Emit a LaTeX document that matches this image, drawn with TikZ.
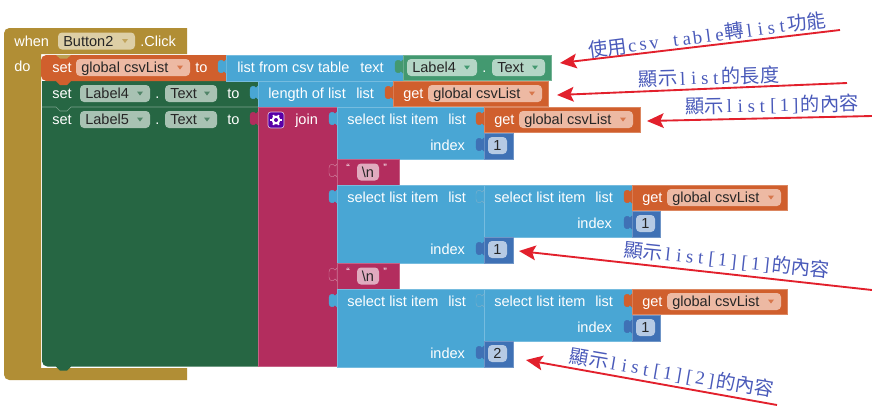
\documentclass[tikz,border=0pt]{standalone}
\usepackage{fontspec}
\usetikzlibrary{arrows.meta}
\setmainfont{Liberation Sans}
\newfontfamily\cjk{Noto Sans CJK TC}
\newfontfamily\anl{Liberation Serif}
\definecolor{cgold}{HTML}{B18E35}
\definecolor{cgoldc}{HTML}{DDCFA6}
\definecolor{corange}{HTML}{D05F2D}
\definecolor{corangec}{HTML}{EDB9A3}
\definecolor{cgreen}{HTML}{266643}
\definecolor{cgreenc}{HTML}{A8C2B3}
\definecolor{cgetter}{HTML}{439970}
\definecolor{cgetterc}{HTML}{B4D6C6}
\definecolor{cblue}{HTML}{49A6D4}
\definecolor{cmag}{HTML}{B32D5E}
\definecolor{cmagc}{HTML}{E0ABBF}
\definecolor{cmath}{HTML}{3F71B5}
\definecolor{cmathc}{HTML}{B6CAE4}
\definecolor{cred}{HTML}{E2202C}
\definecolor{cnote}{HTML}{4A5ABA}
\newdimen\pxu \pxu=.75pt
\newcount\nn
\tikzset{
  x=.75pt,y=-.75pt,
  wtext/.style={inner sep=0pt,anchor=base west,text=white,font=\fontsize{10.9}{13}\selectfont},
  dtext/.style={inner sep=0pt,anchor=base west,text=black!85,font=\fontsize{10.9}{13}\selectfont},
  blockbox/.style={draw,line width=.35pt,inner sep=0pt,outer sep=0pt,anchor=north west},
  chipshape/.style={rounded corners=3pt},
  note/.style={inner sep=0pt,text=cnote,font=\cjk\fontsize{14.5}{17}\selectfont},
  callout/.style={draw=cred,line width=1.4pt,-{Stealth[length=12.5pt,width=11pt,inset=2.5pt]}},
}
% rectangular block as a named node
\newcommand\blk[6]{%
  \pgfmathsetlengthmacro\bw{((#3)-(#1))*.75pt}%
  \pgfmathsetlengthmacro\bh{((#4)-(#2))*.75pt}%
  \node[blockbox,fill=#5,draw=#5!75!white,minimum width=\bw,minimum height=\bh] (#6) at (#1,#2) {};}
% puzzle tab on the left edge of a block
\newcommand\tabb[4]{%
  \path[fill=#3,draw=#4,line width=.35pt] (#1,#2+5)
    -- (#1-2,#2+7) .. controls (#1-4,#2+4) and (#1-8,#2+5) .. (#1-8,#2+9) -- (#1-8,#2+14)
    .. controls (#1-8,#2+18) and (#1-4,#2+19) .. (#1-2,#2+16) -- (#1,#2+18) -- cycle;}
\newcommand\wt[3]{\global\advance\nn 1 \node[wtext] (t\the\nn) at (#1,#2+5) {#3};}
\newcommand\chip[6]{%
  \fill[fill=#4,chipshape] (#1,#3-8.5) rectangle (#2,#3+8.5);
  \global\advance\nn 1 \node[dtext] (t\the\nn) at (#1+5,#3+5) {#6};
  \fill[#5] (#2-13,#3-2) -- (#2-7,#3-2) -- (#2-10,#3+2) -- cycle;}
\newcommand\vchip[3]{%
  \fill[fill=cmathc,chipshape] (#1,#2-8.5) rectangle (#1+19,#2+8.5);
  \global\advance\nn 1 \node[dtext,anchor=base] (t\the\nn) at (#1+9.5,#2+5) {#3};}
% fixed-pitch latin letters of the notes
\def\mlend{\mlend}
\newcommand\ml[1]{\mlgo#1\mlend}
\def\mlgo#1{\ifx#1\mlend\else\hbox to 11\pxu{\hss{\anl\fontsize{14}{16}\selectfont#1}\hss}\expandafter\mlgo\fi}
\begin{document}
\begin{tikzpicture}
\useasboundingbox (0,0) rectangle (872,405);
\fill[white] (0,0) rectangle (872,405);
% event block
\path[fill=cgold] [rounded corners=4pt] (4,200) -- (4,28) -- (100,28) [sharp corners] -- (187,28) -- (187,54) -- (41,54) -- (41,368) -- (187,368) -- (187,380) [rounded corners=4pt] -- (100,380) -- (4,380) -- cycle;
\wt{14}{41}{when}
\wt{14}{66}{do}
\chip{58}{135}{41}{cgoldc}{cgold!80}{Button2}
\wt{140}{41}{.Click}
% green setters
\path[fill=cgreen] (258,81) -- (42,81) [rounded corners=4pt] -- (42,366.5) [sharp corners] -- (56,366.5) -- (60,370.5) -- (67,370.5) -- (71,366.5) -- (258,366.5) -- cycle;
\draw[cgreen!60!white,line width=.5pt] (42,107) -- (56,107) -- (60,111) -- (67,111) -- (71,107) -- (258,107);
% orange setter
\path[fill=corange] (226,55) -- (46,55) [rounded corners=4pt] -- (41,55) -- (41,81) [sharp corners] -- (56,81) -- (60,85) -- (67,85) -- (71,81) -- (226,81) -- cycle;
\fill[cgold!85!white] (56,55) -- (60,58.5) -- (67,58.5) -- (71,55) -- cycle;
\wt{52}{67}{set}
\chip{76}{190}{67.5}{corangec}{corange!85}{global csvList}
\wt{195}{67}{to}
\wt{52}{93}{set}
\chip{80}{150}{93.5}{cgreenc}{cgreen!80}{Label4}
\wt{155}{93}{.}
\chip{165}{217}{93.5}{cgreenc}{cgreen!80}{Text}
\wt{227}{93}{to}
\wt{52}{119}{set}
\chip{80}{150}{119.5}{cgreenc}{cgreen!80}{Label5}
\wt{155}{119}{.}
\chip{165}{217}{119.5}{cgreenc}{cgreen!80}{Text}
\wt{227}{119}{to}
% list from csv table
\blk{226}{55}{403}{81}{cblue}{csv}
\tabb{226}{55}{cblue}{cblue}
\wt{237}{67}{list from csv table}
\wt{360}{67}{text}
\blk{403}{55}{551}{80}{cgetter}{lab}
\tabb{403}{55}{cgetter}{cgetter}
\chip{407}{477}{67.5}{cgetterc}{cgetter}{Label4}
\wt{482}{67}{.}
\chip{492}{545}{67.5}{cgetterc}{cgetter}{Text}
% length of list
\blk{258}{81}{393}{107}{cblue}{len}
\tabb{258}{81}{cblue}{cblue}
\wt{268}{93}{length of list}
\wt{356}{93}{list}
\blk{393}{81}{548}{106}{corange}{getA}
\tabb{393}{81}{corange}{corange}
\wt{403}{93}{get}
\chip{428}{542}{93.5}{corangec}{corange!85}{global csvList}
% join
\blk{258}{107}{337}{366.5}{cmag}{join}
\tabb{258}{107}{cmag}{cmag}
\filldraw[fill=violet!70!blue,draw=white!75!violet,rounded corners=2pt,line width=.5pt] (268,112) rectangle (284,128);
\fill[white] (276,120) circle[radius=4.4];
\foreach \a in {0,60,...,300}{\draw[white,line width=1.4pt] (276,120) -- ++(\a:5.6);}
\fill[violet!70!blue] (276,120) circle[radius=2];
\wt{295}{119}{join}
% first select
\blk{337}{107}{484}{159}{cblue}{selA}
\tabb{337}{107}{cblue}{cblue}
\wt{347}{119}{select list item}
\wt{448}{119}{list}
\wt{430}{145}{index}
\blk{484}{107}{640}{132}{corange}{getB}
\tabb{484}{107}{corange}{corange}
\wt{494}{119}{get}
\chip{519}{633}{119.5}{corangec}{corange!85}{global csvList}
\blk{484}{133}{513}{159}{cmath}{valA}
\tabb{484}{133}{cmath}{cmath}
\vchip{488}{145.5}{1}
% text newline blocks and nested selects
\foreach \t/\v/\s in {159/1/a,263/2/b}{
  \blk{337}{\t}{399}{\t+26}{cmag}{nl\s}
  \tabb{337}{\t}{cmag}{cmagc!60!cmag}
  \fill[cmagc,chipshape] (357,\t+4.5) rectangle (379,\t+21.5);
  \global\advance\nn 1 \node[dtext] (t\the\nn) at (361.5,\t+18) {\textbackslash n};
  \global\advance\nn 1 \node[wtext,font=\fontsize{8}{9}\selectfont] (t\the\nn) at (346,\t+12) {“};
  \global\advance\nn 1 \node[wtext,font=\fontsize{8}{9}\selectfont] (t\the\nn) at (383,\t+12) {”};
  \blk{337}{\t+26}{484}{\t+104}{cblue}{selO\s}
  \tabb{337}{\t+26}{cblue}{cblue}
  \wt{347}{\t+38}{select list item}
  \wt{448}{\t+38}{list}
  \wt{430}{\t+90}{index}
  \blk{484}{\t+26}{632}{\t+78}{cblue}{selI\s}
  \tabb{484}{\t+26}{cblue}{cblue!85!black!70!white}
  \wt{494}{\t+38}{select list item}
  \wt{595}{\t+38}{list}
  \wt{577}{\t+64}{index}
  \blk{632}{\t+26}{787}{\t+51}{corange}{getC\s}
  \tabb{632}{\t+26}{corange}{corange}
  \wt{642}{\t+38}{get}
  \chip{667}{781}{\t+38.5}{corangec}{corange!85}{global csvList}
  \blk{632}{\t+52}{660}{\t+78}{cmath}{valI\s}
  \tabb{632}{\t+52}{cmath}{cmath}
  \vchip{636}{\t+64.5}{1}
  \blk{484}{\t+78}{513}{\t+104}{cmath}{valO\s}
  \tabb{484}{\t+78}{cmath}{cmath}
  \vchip{488}{\t+90.5}{\v}
}
% notes
\node[note,rotate=7.3] (n1) at (707,35) {使用\ml{csv}\hspace{11\pxu}\ml{table}轉\ml{list}功能};
\node[note,rotate=1.8] (n2) at (709,77) {顯示\ml{list}的長度};
\node[note,rotate=1] (n3) at (772,105) {顯示\ml{list[1]}的內容};
\node[note,rotate=-6] (n4) at (727,260) {顯示\ml{list[1][1]}的內容};
\node[note,rotate=-9.7] (n5) at (672,373) {顯示\ml{list[1][2]}的內容};
% callout arrows
\coordinate (a1s) at (840,30);  \coordinate (a1e) at (560,63);
\coordinate (a2s) at (847,83);  \coordinate (a2e) at (557,95);
\coordinate (a3s) at (872,116); \coordinate (a3e) at (647,121);
\coordinate (a4s) at (872,290); \coordinate (a4e) at (519,251);
\coordinate (a5s) at (777,405); \coordinate (a5e) at (526,360);
\draw[callout] (a1s) -- (a1e);
\draw[callout] (a2s) -- (a2e);
\draw[callout] (a3s) -- (a3e);
\draw[callout] (a4s) -- (a4e);
\draw[callout] (a5s) -- (a5e);
\end{tikzpicture}
\end{document}
